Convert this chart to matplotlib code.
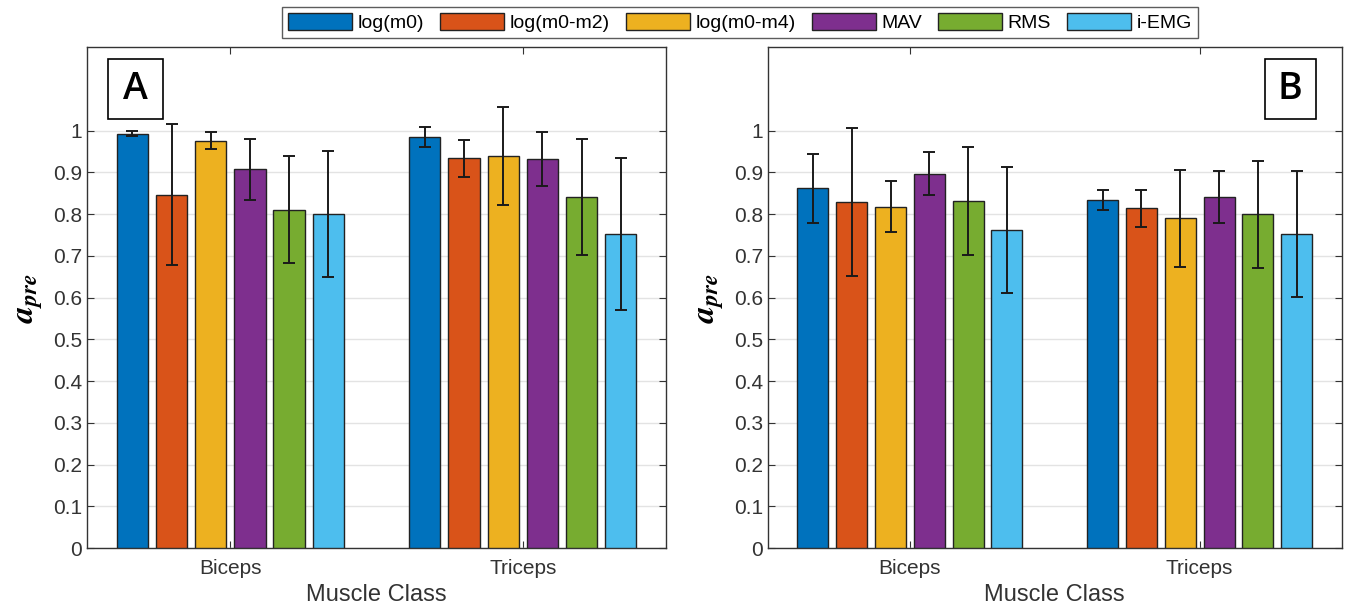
import numpy as np
import matplotlib.pyplot as plt
from matplotlib.patches import Patch, Rectangle

plt.rcParams['font.family'] = ['Liberation Sans', 'DejaVu Sans']

muscles = ['Biceps', 'Triceps']
features = ['log(m0)', 'log(m0-m2)', 'log(m0-m4)', 'MAV', 'RMS', 'i-EMG']
colors = ['#0072BD', '#D95319', '#EDB120', '#7E2F8E', '#77AC30', '#4DBEEE']

# panel A: rows = features, cols = [Biceps, Triceps]
mean_a = [[0.993, 0.985],
          [0.847, 0.934],
          [0.976, 0.940],
          [0.908, 0.932],
          [0.811, 0.841],
          [0.800, 0.753]]
err_a = [[0.006, 0.025],
         [0.170, 0.044],
         [0.020, 0.117],
         [0.073, 0.064],
         [0.129, 0.138],
         [0.151, 0.182]]

# panel B
mean_b = [[0.862, 0.834],
          [0.829, 0.814],
          [0.818, 0.790],
          [0.897, 0.841],
          [0.832, 0.800],
          [0.762, 0.752]]
err_b = [[0.083, 0.024],
         [0.178, 0.044],
         [0.061, 0.116],
         [0.052, 0.063],
         [0.129, 0.128],
         [0.151, 0.151]]

fig = plt.figure(figsize=(13.53, 6.10), dpi=100)
ax_a = fig.add_axes([0.0643, 0.1016, 0.428, 0.821])
ax_b = fig.add_axes([0.5676, 0.1016, 0.424, 0.821])

x = np.arange(1, len(muscles) + 1)
step = 0.134
width = 0.107


def draw(ax, means, errs, label, box_x0, box_x1):
    for i in range(len(features)):
        pos = x + (i - 2.5) * step
        ax.bar(pos, means[i], width, color=colors[i], edgecolor='#222222',
               linewidth=1.0, zorder=3)
        ax.errorbar(pos, means[i], yerr=errs[i], fmt='none', ecolor='#1a1a1a',
                    elinewidth=1.4, capsize=4.5, capthick=1.4, zorder=4)
    ax.set_xlim(0.51, 2.49)
    ax.set_ylim(0, 1.2)
    ax.set_yticks(np.arange(0, 1.01, 0.1))
    ax.set_yticklabels(['0'] + ['%.1f' % v for v in np.arange(0.1, 0.95, 0.1)] + ['1'])
    ax.set_xticks(x)
    ax.set_xticklabels(muscles)
    ax.grid(axis='y', color='#e3e3e3', linewidth=1.0, zorder=0)
    ax.tick_params(direction='in', top=True, right=True, labelsize=15,
                   colors='#333333', length=5)
    ax.tick_params(axis='x', pad=8)
    for s in ax.spines.values():
        s.set_color('#333333')
        s.set_linewidth(1.0)
    ax.set_xlabel('Muscle Class', fontsize=17, color='#333333', labelpad=4)
    ax.set_ylabel(r'$\mathbfit{a}_{\mathbfit{pre}}$', fontsize=24,
                  labelpad=6, math_fontfamily='stix')
    # boxed panel letter
    y0, y1 = 0.856, 0.976
    ax.add_patch(Rectangle((box_x0, y0), box_x1 - box_x0, y1 - y0,
                           transform=ax.transAxes, facecolor='white',
                           edgecolor='black', linewidth=1.2, zorder=6))
    ax.text((box_x0 + box_x1) / 2, (y0 + y1) / 2, label, transform=ax.transAxes,
            fontsize=27, family='Open Sans', fontweight='semibold',
            ha='center', va='center', zorder=7)


draw(ax_a, mean_a, err_a, 'A', 0.036, 0.131)
draw(ax_b, mean_b, err_b, 'B', 0.866, 0.955)

handles = [Patch(facecolor=c, edgecolor='#222222') for c in colors]
fig.legend(handles, features, loc='upper center', bbox_to_anchor=(0.547, 0.989),
           ncol=6, fontsize=14, frameon=True, fancybox=False, edgecolor='#333333',
           handlelength=3.3, handleheight=1.0, handletextpad=0.3, columnspacing=0.8,
           borderpad=0.3, borderaxespad=0)

fig.savefig('out.png', dpi=100)
